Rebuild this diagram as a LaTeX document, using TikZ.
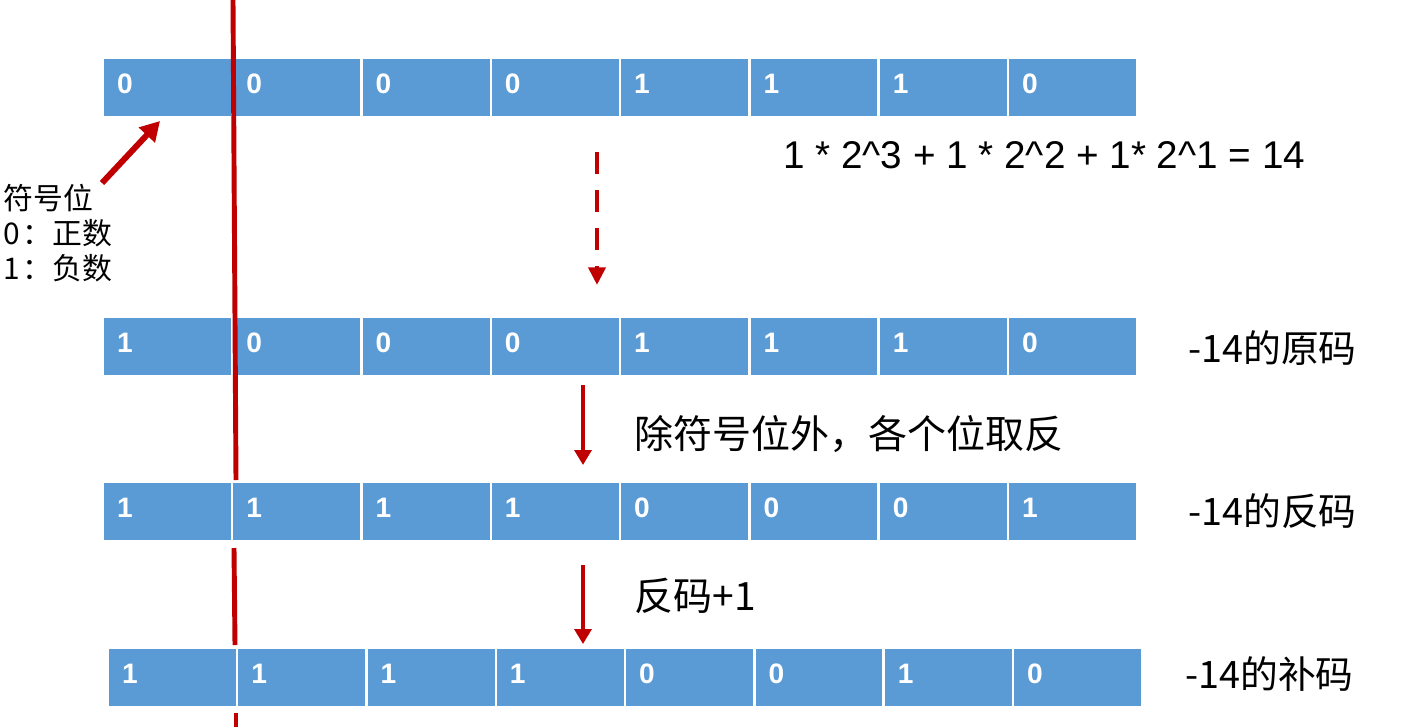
\documentclass[tikz,border=0pt]{standalone}
\usepackage{fontspec}
\setmainfont{Liberation Sans}
\newfontfamily\cjk{Noto Sans CJK SC}
\usetikzlibrary{arrows.meta}
\definecolor{cellblue}{HTML}{5B9BD5}
\definecolor{darkred}{HTML}{C00000}
\tikzset{
  bitcell/.style={fill=cellblue, text=white, minimum width=2.54cm, minimum height=1.14cm,
    inner ysep=0pt, inner xsep=0.26cm, text width=2.02cm, align=left,
    text height=11.5pt, text depth=5pt, font=\fontsize{16}{16}\selectfont\bfseries},
  codelabel/.style={anchor=base west, inner sep=0pt, font=\cjk\fontsize{21.5}{21.5}\selectfont},
  redarrow/.style={draw=darkred, line width=2pt, -{Triangle[length=8.5pt,width=9.6pt]}}
}
\begin{document}
\begin{tikzpicture}[x=0.02cm, y=-0.02cm]
  \useasboundingbox (0,0) rectangle (1423,727);
  \foreach \r/\y/\dx/\bits in {1/87.5/0/{0,0,0,0,1,1,1,0}, 2/346.5/0/{1,0,0,0,1,1,1,0},
                               3/511.5/0/{1,1,1,1,0,0,0,1}, 4/677.5/5/{1,1,1,1,0,0,1,0}}
    \foreach \b [count=\i from 0] in \bits
      \node[bitcell] (r\r c\i) at (167.5+\dx+129.3*\i, \y) {\b};

  \node[anchor=base west, inner sep=0pt, font=\fontsize{22}{22}\selectfont] (eq) at (783,168)
    {1 * 2\textasciicircum3 + 1 * 2\textasciicircum2 + 1* 2\textasciicircum1 = 14};
  \node[anchor=west, inner sep=0pt, align=left, font=\cjk\fontsize{17}{20}\selectfont] (sign) at (3,233)
    {符号位\\0\hspace{0.1em}：正数\\1\hspace{0.1em}：负数};
  \node[codelabel] (yuan) at (1188,362) {-14的原码};
  \node[codelabel] (fan) at (1188,525) {-14的反码};
  \node[codelabel] (bu) at (1185,688) {-14的补码};
  \node[codelabel, font=\cjk\fontsize{22.2}{22.2}\selectfont] (step1) at (634,448) {除符号位外，各个位取反};
  \node[codelabel, font=\cjk\fontsize{22.2}{22.2}\selectfont] (step2) at (634,610) {反码+1};

  \coordinate (s0) at (102,183); \coordinate (s1) at (160,121);
  \coordinate (d0) at (597,152); \coordinate (d1) at (597,285);
  \coordinate (a0) at (583,385); \coordinate (a1) at (583,465);
  \coordinate (b0) at (583,565); \coordinate (b1) at (583,644);
  \draw[redarrow, line width=3.4pt, -{Triangle[length=11pt,width=12pt]}] (s0) -- (s1);
  \draw[redarrow, line width=2.5pt, dash pattern=on 12.3pt off 9.4pt,
        -{Triangle[length=10pt,width=9.5pt]}] (d0) -- (d1);
  \draw[redarrow] (a0) -- (a1);
  \draw[redarrow] (b0) -- (b1);

  \draw[darkred, line width=2.8pt] (233,0) -- (236,480);
  \draw[darkred, line width=2.8pt] (234,548) -- (235,645);
  \draw[darkred, line width=2.8pt] (236,713) -- (236,727);
\end{tikzpicture}
\end{document}
